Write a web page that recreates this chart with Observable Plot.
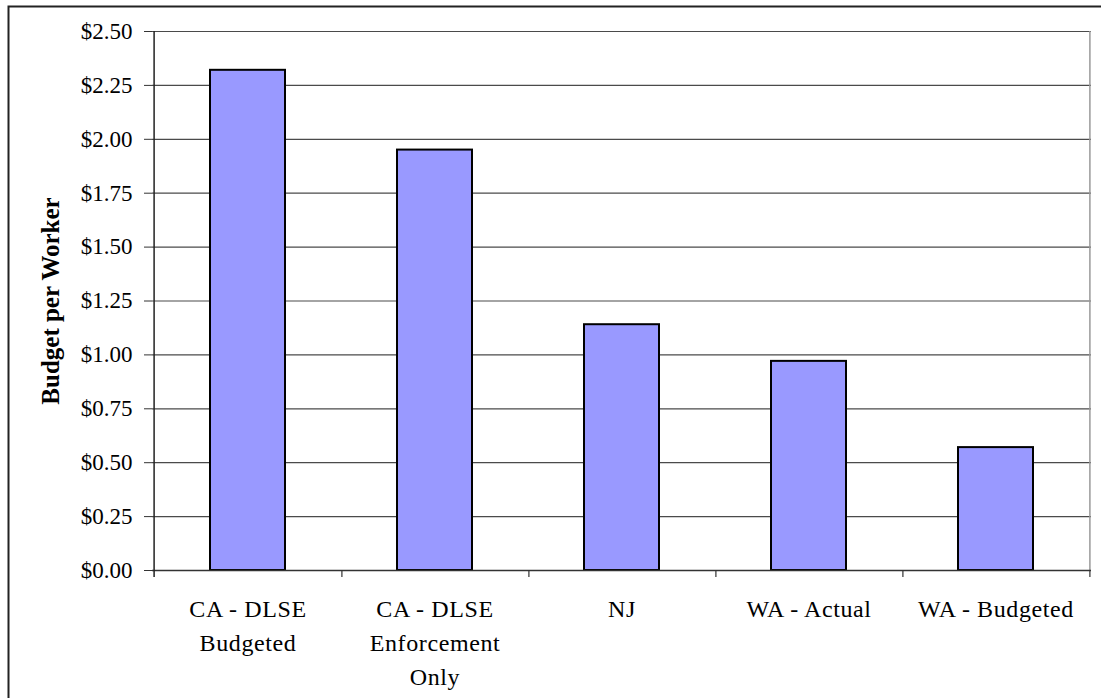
<!DOCTYPE html>
<html><head><meta charset="utf-8">
<script src="https://cdn.jsdelivr.net/npm/d3@7"></script>
<script src="https://cdn.jsdelivr.net/npm/@observablehq/plot@0.6"></script>
<style>
html,body{margin:0;padding:0;background:#fff;overflow:hidden;}
</style></head><body><div id="chart"></div>
<script>
const categories = ["CA - DLSE\nBudgeted", "CA - DLSE\nEnforcement\nOnly", "NJ", "WA - Actual", "WA - Budgeted"];
const values = [2.32, 1.95, 1.14, 0.97, 0.57];
const yTicks = [0, 0.25, 0.5, 0.75, 1.0, 1.25, 1.5, 1.75, 2.0, 2.25, 2.5];
const yLabel = "Budget per Worker";

const data = categories.map((c, i) => ({category: c, value: values[i]}));

const W = 1101, H = 698, mL = 152, mR = 10, mT = 31, mB = 128;
const bw = (W - mL - mR) / categories.length;
const font = "'Liberation Serif', 'Times New Roman', serif";

const chart = Plot.plot({
  width: W, height: H,
  marginLeft: mL, marginRight: mR, marginTop: mT, marginBottom: mB,
  style: {fontFamily: font, fontSize: "23px", background: "#fff", color: "#000", overflow: "visible"},
  x: {domain: categories, padding: 0, label: null, axis: null},
  y: {domain: [0, 2.5], label: null, axis: null},
  marks: [
    Plot.ruleY(yTicks, {stroke: "#4a4a4a", strokeWidth: 1.2}),
    Plot.barY(data, {x: "category", y: "value", fill: "#9999ff", stroke: "#000", strokeWidth: 2, insetLeft: 56, insetRight: 56}),
    Plot.ruleX([categories[categories.length - 1]], {dx: bw / 2, stroke: "#999", strokeWidth: 1.5}),
    Plot.ruleY([0], {stroke: "#333", strokeWidth: 1.5}),
    Plot.ruleX([categories[0]], {dx: -bw / 2, insetBottom: -7, stroke: "#222", strokeWidth: 1.5}),
    Plot.ruleX(categories, {y1: 0, y2: 0, insetBottom: -7, dx: bw / 2, stroke: "#333", strokeWidth: 1.2}),
    Plot.axisY({ticks: yTicks, tickFormat: d3.format("$.2f"), tickSize: 8, tickPadding: 12, stroke: "#333", fontSize: 23, label: null}),
    Plot.axisX({tickSize: 0, tickPadding: 22, lineHeight: 1.42, fontSize: 24, label: null}),
    Plot.text([yLabel], {text: d => d, frameAnchor: "left", textAnchor: "middle", dx: -102, rotate: -90, fontWeight: "bold", fontSize: 25, ariaLabel: "y-title"}),
    Plot.frame({stroke: "#222", strokeWidth: 2, insetLeft: -(mL - 8), insetTop: -(mT - 6), insetRight: -40, insetBottom: -200})
  ]
});
d3.select(chart).selectAll("[aria-label='x-axis tick label'] text").style("letter-spacing", "0.6px");
d3.select(chart).selectAll("[aria-label='y-title'] text").attr("letter-spacing", "1.2px").style("letter-spacing", "1.2px");
document.getElementById("chart").appendChild(chart);
</script></body></html>
